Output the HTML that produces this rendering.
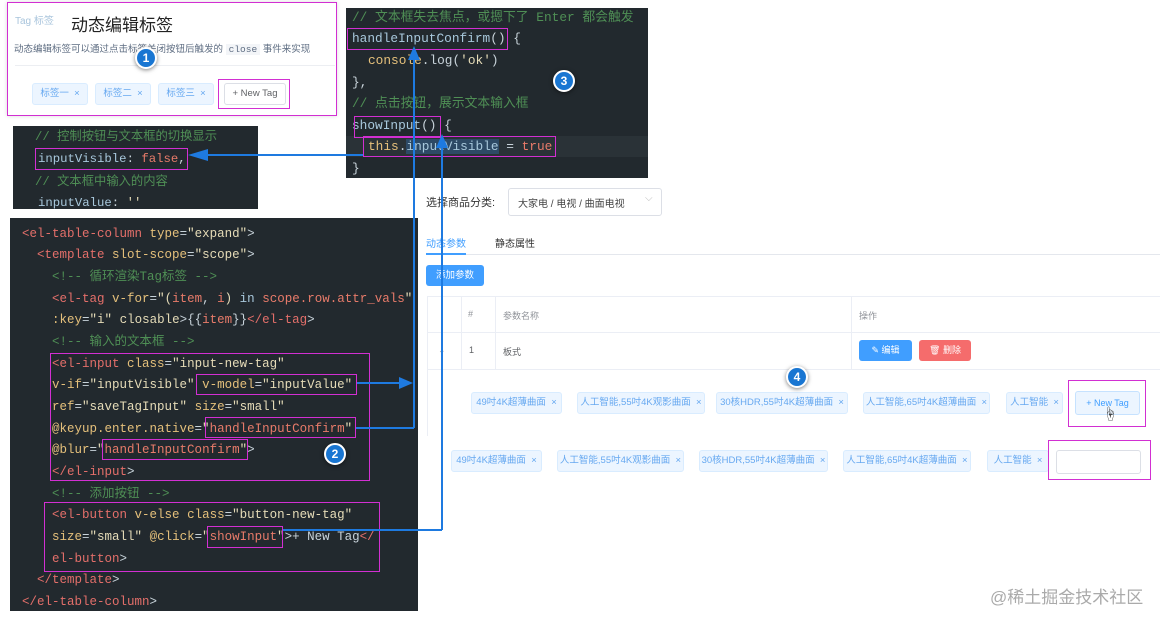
<!DOCTYPE html>
<html><head><meta charset="utf-8">
<style>
*{margin:0;padding:0;box-sizing:border-box}
body{width:1170px;height:623px;background:#fff;position:relative;overflow:hidden;font-family:"Liberation Sans","Noto Sans CJK SC",sans-serif}
.a{position:absolute}
.code{position:absolute;background:#22292e;font-family:"Liberation Mono","Noto Sans CJK SC",monospace;color:#c8d3da;white-space:pre}
.code div{position:absolute;line-height:20px}
.t{color:#e46f6a}.at{color:#e5c07b}.s{color:#e6dcb8}.c{color:#4f8f55}.b{color:#a8c8dc}.r{color:#e87b6a}.w{color:#c8d3da}
.mg{position:absolute;border:1.5px solid #d22fd2}
.badge{position:absolute;width:22px;height:22px;border-radius:50%;background:#1976d2;border:2px solid #fff;box-shadow:0 1px 4px rgba(0,0,0,.5);color:#fff;font-weight:bold;font-size:12px;text-align:center;line-height:18px}
.tag{position:absolute;height:22px;background:#ecf5ff;border:1px solid #d9ecff;border-radius:3px;color:#66a8f0;font-size:9.5px;line-height:20px;text-align:center;white-space:nowrap}
.txt{position:absolute;white-space:nowrap}
.bl{position:absolute;background:#1e7ae0}
</style></head><body>

<!-- panel 1 -->
<div class="a" style="left:7px;top:2px;width:330px;height:114px;background:#fff;box-shadow:0 0 4px rgba(0,0,0,.15)"></div>
<div class="txt" style="left:15px;top:12px;font-size:10px;color:#a8c4dc">Tag 标签</div>
<div class="txt" style="left:71px;top:11px;font-size:17px;color:#222">动态编辑标签</div>
<div class="txt" style="left:14px;top:41px;font-size:9.5px;color:#5e6d82">动态编辑标签可以通过点击标签关闭按钮后触发的 <span style="background:#f3f5f8;font-family:'Liberation Mono',monospace;padding:0 3px">close</span> 事件来实现</div>
<div class="a" style="left:15px;top:65px;width:320px;height:1px;background:#eceef2"></div>
<div class="tag" style="left:32px;top:83px;width:56px">标签一 &nbsp;×</div>
<div class="tag" style="left:95px;top:83px;width:56px">标签二 &nbsp;×</div>
<div class="tag" style="left:158px;top:83px;width:56px">标签三 &nbsp;×</div>
<div class="a" style="left:224px;top:83px;width:62px;height:22px;border:1px solid #dcdfe6;border-radius:3px;font-size:9.5px;color:#606266;text-align:center;line-height:20px">+ New Tag</div>
<div class="mg" style="left:7px;top:2px;width:330px;height:114px"></div>
<div class="mg" style="left:218px;top:79px;width:72px;height:30px"></div>
<div class="badge" style="left:135px;top:47px">1</div>

<!-- small code -->
<div class="code" style="left:13px;top:126px;width:245px;height:83px;font-size:12.3px">
<div style="left:22px;top:1px" class="c">// 控制按钮与文本框的切换显示</div>
<div style="left:25px;top:23px"><span class="b">inputVisible</span>: <span class="r">false</span>,</div>
<div style="left:22px;top:46px" class="c">// 文本框中输入的内容</div>
<div style="left:25px;top:67px"><span class="b">inputValue</span>: <span class="s">''</span></div>
</div>
<div class="mg" style="left:35px;top:148px;width:153px;height:22px"></div>

<!-- top code -->
<div class="code" style="left:346px;top:8px;width:302px;height:170px;font-size:12.8px">
<div style="left:6px;top:0px" class="c">// 文本框失去焦点，或摁下了 Enter 都会触发</div>
<div style="left:6px;top:21px"><span class="b">handleInputConfirm</span>() {</div>
<div style="left:22px;top:43px"><span class="at">console</span>.log(<span class="s">'ok'</span>)</div>
<div style="left:6px;top:65px">},</div>
<div style="left:6px;top:86px" class="c">// 点击按钮，展示文本输入框</div>
<div style="left:6px;top:108px"><span class="b">showInput</span>() {</div>
<div style="left:0;top:128px;width:302px;height:21px;background:#2a3237"></div>
<div style="left:22px;top:129px"><span class="at">this</span>.<span class="b" style="background:#2d4a66">inputVisible</span> = <span class="r">true</span></div>
<div style="left:6px;top:151px">}</div>
</div>
<div class="mg" style="left:347px;top:28px;width:161px;height:22px"></div>
<div class="mg" style="left:354px;top:116px;width:87px;height:22px"></div>
<div class="mg" style="left:363px;top:136px;width:193px;height:21px"></div>
<div class="badge" style="left:553px;top:70px">3</div>

<!-- right panel -->
<div class="txt" style="left:426px;top:194px;font-size:11px;color:#333">选择商品分类:</div>
<div class="a" style="left:508px;top:188px;width:154px;height:28px;border:1px solid #dcdfe6;border-radius:3px"></div>
<div class="txt" style="left:518px;top:195px;font-size:10px;color:#444">大家电 / 电视 / 曲面电视</div>
<div class="txt" style="left:645px;top:193px;font-size:10px;color:#bbb">⌵</div>
<div class="txt" style="left:426px;top:235px;font-size:10px;color:#409eff">动态参数</div>
<div class="txt" style="left:495px;top:235px;font-size:10px;color:#333">静态属性</div>
<div class="a" style="left:426px;top:254px;width:734px;height:1px;background:#e4e7ed"></div>
<div class="a" style="left:426px;top:253px;width:40px;height:2px;background:#409eff"></div>
<div class="a" style="left:426px;top:265px;width:58px;height:21px;background:#409eff;border-radius:3px;color:#fff;font-size:9.5px;text-align:center;line-height:21px">添加参数</div>
<div class="a" style="left:427px;top:296px;width:733px;height:1px;background:#ebeef5"></div>
<div class="a" style="left:427px;top:332px;width:733px;height:1px;background:#ebeef5"></div>
<div class="a" style="left:427px;top:369px;width:733px;height:1px;background:#ebeef5"></div>
<div class="a" style="left:461px;top:296px;width:1px;height:73px;background:#ebeef5"></div>
<div class="a" style="left:495px;top:296px;width:1px;height:73px;background:#ebeef5"></div>
<div class="a" style="left:851px;top:296px;width:1px;height:73px;background:#ebeef5"></div>
<div class="txt" style="left:468px;top:309px;font-size:9px;color:#909399">#</div>
<div class="txt" style="left:503px;top:309px;font-size:9px;color:#909399">参数名称</div>
<div class="txt" style="left:859px;top:309px;font-size:9px;color:#909399">操作</div>
<div class="txt" style="left:438px;top:345px;font-size:9px;color:#aaa">⌄</div>
<div class="txt" style="left:469px;top:345px;font-size:9px;color:#606266">1</div>
<div class="txt" style="left:503px;top:345px;font-size:9px;color:#606266">板式</div>
<div class="a" style="left:859px;top:340px;width:53px;height:21px;background:#409eff;border-radius:3px;color:#fff;font-size:9px;text-align:center;line-height:21px">✎ 编辑</div>
<div class="a" style="left:919px;top:340px;width:52px;height:21px;background:#f56c6c;border-radius:3px;color:#fff;font-size:9px;text-align:center;line-height:21px">🗑 删除</div>
<div class="a" style="left:427px;top:296px;width:1px;height:140px;background:#ebeef5"></div>

<div class="tag" style="left:471px;top:392px;width:91px">49吋4K超薄曲面 &nbsp;×</div>
<div class="tag" style="left:577px;top:392px;width:128px">人工智能,55吋4K观影曲面 &nbsp;×</div>
<div class="tag" style="left:716px;top:392px;width:132px">30核HDR,55吋4K超薄曲面 &nbsp;×</div>
<div class="tag" style="left:863px;top:392px;width:127px">人工智能,65吋4K超薄曲面 &nbsp;×</div>
<div class="tag" style="left:1006px;top:392px;width:57px">人工智能 &nbsp;×</div>
<div class="a" style="left:1075px;top:391px;width:65px;height:24px;background:#ecf5ff;border:1px solid #c6e2ff;border-radius:3px;color:#409eff;font-size:9px;text-align:center;line-height:22px">+ New Tag</div>
<div class="txt" style="left:1103px;top:404px;font-size:14px;color:#333">☝</div>
<div class="mg" style="left:1068px;top:380px;width:78px;height:47px"></div>
<div class="badge" style="left:786px;top:366px">4</div>

<div class="tag" style="left:451px;top:450px;width:91px">49吋4K超薄曲面 &nbsp;×</div>
<div class="tag" style="left:557px;top:450px;width:127px">人工智能,55吋4K观影曲面 &nbsp;×</div>
<div class="tag" style="left:699px;top:450px;width:129px">30核HDR,55吋4K超薄曲面 &nbsp;×</div>
<div class="tag" style="left:843px;top:450px;width:128px">人工智能,65吋4K超薄曲面 &nbsp;×</div>
<div class="tag" style="left:987px;top:450px;width:62px">人工智能 &nbsp;×</div>
<div class="a" style="left:1056px;top:450px;width:85px;height:24px;border:1px solid #dcdfe6;border-radius:3px;background:#fff"></div>
<div class="mg" style="left:1048px;top:440px;width:103px;height:40px"></div>

<div class="txt" style="left:990px;top:583px;font-size:17px;color:#aaa">@稀土掘金技术社区</div>

<!-- big code -->
<div class="code" style="left:10px;top:218px;width:408px;height:393px;font-size:12.5px">
<div style="left:12px;top:6px"><span class="t">&lt;el-table-column</span> <span class="at">type</span>=<span class="s">"expand"</span>&gt;</div>
<div style="left:27px;top:27px"><span class="t">&lt;template</span> <span class="at">slot-scope</span>=<span class="s">"scope"</span>&gt;</div>
<div style="left:42px;top:49px" class="c">&lt;!-- 循环渲染Tag标签 --&gt;</div>
<div style="left:42px;top:71px"><span class="t">&lt;el-tag</span> <span class="at">v-for</span>=<span class="s">"(</span><span class="r">item</span>, <span class="r">i</span><span class="s">)</span> <span class="b">in</span> <span class="r">scope.row.attr_vals</span><span class="s">"</span></div>
<div style="left:42px;top:92px"><span class="at">:key</span>=<span class="s">"i"</span> <span class="s">closable</span>&gt;{{<span class="r">item</span>}}<span class="t">&lt;/el-tag</span>&gt;</div>
<div style="left:42px;top:114px" class="c">&lt;!-- 输入的文本框 --&gt;</div>
<div style="left:42px;top:136px"><span class="t">&lt;el-input</span> <span class="at">class</span>=<span class="s">"input-new-tag"</span></div>
<div style="left:42px;top:157px"><span class="at">v-if</span>=<span class="s">"inputVisible"</span> <span class="at">v-model</span>=<span class="s">"inputValue"</span></div>
<div style="left:42px;top:179px"><span class="at">ref</span>=<span class="s">"saveTagInput"</span> <span class="at">size</span>=<span class="s">"small"</span></div>
<div style="left:42px;top:201px"><span class="at">@keyup.enter.native</span>=<span class="s">"</span><span class="r">handleInputConfirm</span><span class="s">"</span></div>
<div style="left:42px;top:222px"><span class="at">@blur</span>=<span class="s">"</span><span class="r">handleInputConfirm</span><span class="s">"</span>&gt;</div>
<div style="left:42px;top:244px"><span class="t">&lt;/el-input</span>&gt;</div>
<div style="left:42px;top:266px" class="c">&lt;!-- 添加按钮 --&gt;</div>
<div style="left:42px;top:287px"><span class="t">&lt;el-button</span> <span class="at">v-else</span> <span class="at">class</span>=<span class="s">"button-new-tag"</span></div>
<div style="left:42px;top:309px"><span class="at">size</span>=<span class="s">"small"</span> <span class="at">@click</span>=<span class="s">"</span><span class="r">showInput</span><span class="s">"</span>&gt;+ New Tag<span class="t">&lt;/</span></div>
<div style="left:42px;top:331px"><span class="t">el-button</span>&gt;</div>
<div style="left:27px;top:352px"><span class="t">&lt;/template</span>&gt;</div>
<div style="left:12px;top:374px"><span class="t">&lt;/el-table-column</span>&gt;</div>
</div>
<div class="mg" style="left:50px;top:353px;width:320px;height:128px"></div>
<div class="mg" style="left:196px;top:374px;width:161px;height:21px"></div>
<div class="mg" style="left:205px;top:417px;width:151px;height:21px"></div>
<div class="mg" style="left:102px;top:439px;width:146px;height:21px"></div>
<div class="mg" style="left:44px;top:502px;width:336px;height:70px"></div>
<div class="mg" style="left:207px;top:526px;width:76px;height:22px"></div>
<div class="badge" style="left:324px;top:443px">2</div>

<!-- blue connectors -->
<div class="bl" style="left:205px;top:154px;width:158px;height:1.5px"></div>
<svg class="a" style="left:188px;top:148px" width="22" height="14"><polygon points="0,7 20,1 20,13" fill="#1e7ae0"/></svg>
<div class="bl" style="left:413px;top:58px;width:1.5px;height:370px"></div>
<svg class="a" style="left:407px;top:46px" width="14" height="16"><polygon points="7,0 1,14 13,14" fill="#1e7ae0"/></svg>
<div class="bl" style="left:356px;top:427px;width:58px;height:1.5px"></div>
<div class="bl" style="left:357px;top:382px;width:44px;height:1.5px"></div>
<svg class="a" style="left:398px;top:376px" width="16" height="14"><polygon points="15,7 1,1 1,13" fill="#1e7ae0"/></svg>
<div class="bl" style="left:441px;top:146px;width:1.5px;height:384px"></div>
<svg class="a" style="left:435px;top:134px" width="14" height="16"><polygon points="7,0 1,14 13,14" fill="#1e7ae0"/></svg>
<div class="bl" style="left:283px;top:529px;width:159px;height:1.5px"></div>
</body></html>
